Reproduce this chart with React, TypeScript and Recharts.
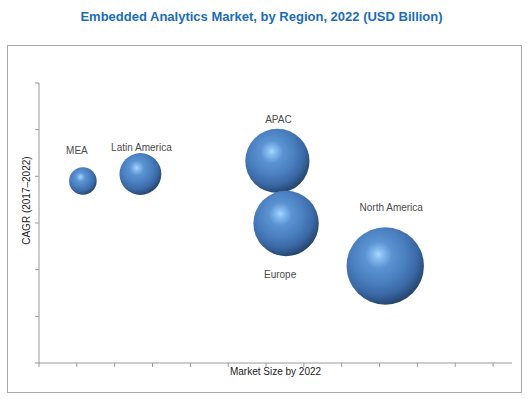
import { Label, Scatter, ScatterChart, XAxis, YAxis, ZAxis } from "recharts";

const regions = ["MEA", "Latin America", "APAC", "Europe", "North America"];
const marketSize = [1.16, 2.68, 6.3, 6.53, 9.15];
const cagr = [3.9, 4.05, 4.33, 2.99, 2.08];

const xTicks = [0, 1, 2, 3, 4, 5, 6, 7, 8, 9, 10, 11, 12];
const yTicks = [0, 1, 2, 3, 4, 5, 6];

const data = regions.map((name, i) => ({
  name,
  x: marketSize[i],
  y: cagr[i],
  z: marketSize[i],
}));

// label placement relative to the bubble edge: [dx, gap, below]
const labelPlacement: Record<string, [number, number, boolean]> = {
  MEA: [-6, 17, false],
  "Latin America": [1, 6, false],
  APAC: [1, 9, false],
  Europe: [-6, 18, true],
  "North America": [6, 20, false],
};

const axisColor = "#9a9a9a";

function Sphere(props: any) {
  const { cx, cy, payload, index } = props;
  const r =
    props.width != null ? props.width / 2 : Math.sqrt((props.size || 0) / Math.PI);
  const id = `sphere-${index}`;
  const [dx, gap, below] = labelPlacement[payload.name] || [0, 8, false];
  const ly = below ? cy + r + gap : cy - r - gap;
  return (
    <g>
      <defs>
        <radialGradient id={id} cx="42%" cy="38%" r="70%" fx="41%" fy="35%">
          <stop offset="0%" stopColor="#aad8ff" />
          <stop offset="8%" stopColor="#88bef2" />
          <stop offset="25%" stopColor="#5b93d2" />
          <stop offset="50%" stopColor="#4a7fc0" />
          <stop offset="72%" stopColor="#3a68a4" />
          <stop offset="90%" stopColor="#26466f" />
          <stop offset="100%" stopColor="#2d5283" />
        </radialGradient>
      </defs>
      <circle cx={cx} cy={cy} r={r} fill={`url(#${id})`} />
      <text
        x={cx + dx}
        y={ly}
        textAnchor="middle"
        dominantBaseline="central"
        fontSize={10}
        fill="#4a4a4a"
        fontFamily="Liberation Sans, Arial, sans-serif"
      >
        {payload.name}
      </text>
    </g>
  );
}

const noTick = () => <g />;

export default function App() {
  return (
    <div
      style={{
        position: "absolute",
        left: 0,
        top: 0,
        width: 528,
        height: 399,
        background: "#fff",
        fontFamily: "Liberation Sans, Arial, sans-serif",
      }}
    >
      <div
        style={{
          position: "absolute",
          left: 0,
          top: 9,
          width: 523,
          textAlign: "center",
          fontSize: 13,
          fontWeight: "bold",
          color: "#1b6db8",
        }}
      >
        Embedded Analytics Market, by Region, 2022 (USD Billion)
      </div>
      <div
        style={{
          position: "absolute",
          left: 7,
          top: 45,
          width: 513,
          height: 346,
          border: "1.5px solid #a8a8a8",
        }}
      />
      <div style={{ position: "absolute", left: 0, top: 0 }}>
        <ScatterChart
          width={528}
          height={399}
          margin={{ top: 83, right: 16, bottom: 0, left: 0 }}
        >
          <XAxis
            type="number"
            dataKey="x"
            domain={[0, 12.5]}
            ticks={xTicks}
            tick={noTick}
            tickSize={4}
            height={36}
            stroke={axisColor}
          >
            <Label
              value="Market Size by 2022"
              position="insideTop"
              offset={5}
              fontSize={10}
              fill="#222"
            />
          </XAxis>
          <YAxis
            type="number"
            dataKey="y"
            domain={[0, 6]}
            ticks={yTicks}
            tick={noTick}
            tickSize={4}
            width={39}
            stroke={axisColor}
            label={{
              content: (p: any) => {
                const vb = p.viewBox || { x: 0, y: 83, width: 39, height: 280 };
                const tx = vb.x + vb.width - 12;
                const ty = vb.y + vb.height * 0.42;
                return (
                  <text
                    x={tx}
                    y={ty}
                    transform={`rotate(-90, ${tx}, ${ty})`}
                    textAnchor="middle"
                    dominantBaseline="central"
                    fontSize={10}
                    fill="#222"
                  >
                    CAGR (2017–2022)
                  </text>
                );
              },
            }}
          />
          <ZAxis type="number" dataKey="z" domain={[0, 9.15]} range={[0, 4705]} />
          <Scatter data={data} shape={<Sphere />} isAnimationActive={false} />
        </ScatterChart>
      </div>
    </div>
  );
}
